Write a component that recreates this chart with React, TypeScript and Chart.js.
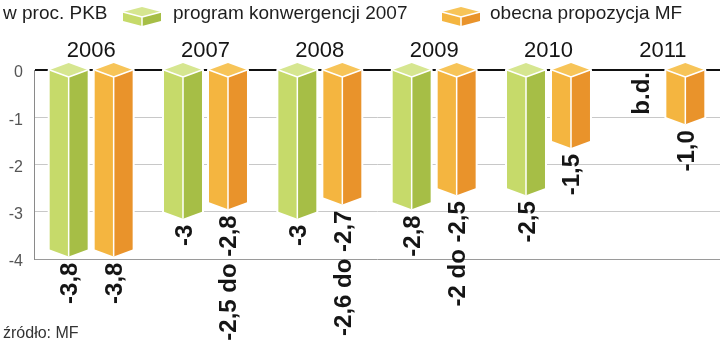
import React, { useEffect, useRef } from 'react';
import { Chart, registerables } from 'chart.js';

Chart.register(...registerables);

const categories = ['2006', '2007', '2008', '2009', '2010', '2011'];
const programValues: (number | null)[] = [-3.8, -3, -3, -2.8, -2.5, null];
const mfValues: (number | null)[] = [-3.8, -2.8, -2.7, -2.5, -1.5, -1.0];
const programLabels = ['-3,8', '-3', '-3', '-2,8', '-2,5', 'b.d.'];
const mfLabels = ['-3,8', '-2,5 do -2,8', '-2,6 do -2,7', '-2 do -2,5', '-1,5', '-1,0'];
const yTicks = [0, -1, -2, -3, -4];
const seriesNames = ['program konwergencji 2007', 'obecna propozycja MF'];
const unitLabel = 'w proc. PKB';
const sourceLabel = 'źródło: MF';

const palettes = [
  { left: '#c6da6a', right: '#a6be46', top: '#d6e690' },
  { left: '#f4b540', right: '#e9932b', top: '#f7c458' },
];

const FONT = '"Liberation Sans", Arial, sans-serif';
const DEPTH = 7;

function drawPrism(
  ctx: CanvasRenderingContext2D,
  cx: number,
  hw: number,
  y0: number,
  yv: number,
  dh: number,
  c: { left: string; right: string; top: string },
  outline = 4
) {
  const L = cx - hw;
  const R = cx + hw;
  ctx.save();
  ctx.lineJoin = 'round';
  if (outline > 0) {
    ctx.beginPath();
    ctx.moveTo(L, y0);
    ctx.lineTo(cx, y0 - dh);
    ctx.lineTo(R, y0);
    ctx.lineTo(R, yv);
    ctx.lineTo(cx, yv + dh);
    ctx.lineTo(L, yv);
    ctx.closePath();
    ctx.strokeStyle = '#ffffff';
    ctx.lineWidth = outline;
    ctx.stroke();
  }
  // left face
  ctx.beginPath();
  ctx.moveTo(L, y0);
  ctx.lineTo(cx, y0 + dh);
  ctx.lineTo(cx, yv + dh);
  ctx.lineTo(L, yv);
  ctx.closePath();
  ctx.fillStyle = c.left;
  ctx.fill();
  // right face
  ctx.beginPath();
  ctx.moveTo(cx, y0 + dh);
  ctx.lineTo(R, y0);
  ctx.lineTo(R, yv);
  ctx.lineTo(cx, yv + dh);
  ctx.closePath();
  ctx.fillStyle = c.right;
  ctx.fill();
  // top face
  ctx.beginPath();
  ctx.moveTo(L, y0);
  ctx.lineTo(cx, y0 - dh);
  ctx.lineTo(R, y0);
  ctx.lineTo(cx, y0 + dh);
  ctx.closePath();
  ctx.fillStyle = c.top;
  ctx.fill();
  // white edges
  ctx.beginPath();
  ctx.moveTo(L, y0);
  ctx.lineTo(cx, y0 + dh);
  ctx.lineTo(R, y0);
  ctx.moveTo(cx, y0 + dh);
  ctx.lineTo(cx, yv + dh);
  ctx.strokeStyle = '#ffffff';
  ctx.lineWidth = 1.5;
  ctx.stroke();
  ctx.restore();
}

function drawVerticalLabel(ctx: CanvasRenderingContext2D, text: string, x: number, yStart: number) {
  ctx.save();
  ctx.translate(x, yStart);
  ctx.rotate(-Math.PI / 2);
  ctx.font = `bold 24px ${FONT}`;
  ctx.fillStyle = '#151515';
  ctx.textAlign = 'right';
  ctx.textBaseline = 'alphabetic';
  ctx.fillText(text, 0, 8.5);
  ctx.restore();
}

const prismPlugin = {
  id: 'prismBars',
  afterDatasetsDraw(chart: any) {
    const ctx: CanvasRenderingContext2D = chart.ctx;
    const yScale = chart.scales.y;
    const xScale = chart.scales.x;
    const y0 = yScale.getPixelForValue(0);
    chart.data.datasets.forEach((ds: any, di: number) => {
      const meta = chart.getDatasetMeta(di);
      const labels = di === 0 ? programLabels : mfLabels;
      meta.data.forEach((el: any, i: number) => {
        const v = ds.data[i];
        let x = el.x;
        let width = el.width;
        if (!isFinite(x) || !isFinite(width)) {
          const c = xScale.getPixelForValue(i);
          width = 38;
          x = di === 0 ? c - 22.5 : c + 22.5;
        }
        if (v == null) {
          drawVerticalLabel(ctx, labels[i], x, y0 + 2);
          return;
        }
        const yv = yScale.getPixelForValue(v);
        drawPrism(ctx, x, width / 2, y0, yv, DEPTH, palettes[di]);
        drawVerticalLabel(ctx, labels[i], x, yv + DEPTH + 6);
      });
    });
  },
  afterDraw(chart: any) {
    const ctx: CanvasRenderingContext2D = chart.ctx;
    const xScale = chart.scales.x;
    ctx.save();
    // legend / unit
    ctx.font = `19px ${FONT}`;
    ctx.fillStyle = '#1e1e1e';
    ctx.textAlign = 'left';
    ctx.textBaseline = 'alphabetic';
    ctx.fillText(unitLabel, 3, 19);
    drawPrism(ctx, 142, 19, 12, 21, 5, palettes[0], 0);
    ctx.font = `19px ${FONT}`;
    ctx.fillStyle = '#1e1e1e';
    ctx.fillText(seriesNames[0], 173, 19);
    drawPrism(ctx, 461, 19, 12, 21, 5, palettes[1], 0);
    ctx.font = `19px ${FONT}`;
    ctx.fillStyle = '#1e1e1e';
    ctx.fillText(seriesNames[1], 490, 19);
    // year labels
    ctx.font = `22px ${FONT}`;
    ctx.fillStyle = '#151515';
    ctx.textAlign = 'center';
    categories.forEach((c, i) => {
      ctx.fillText(c, xScale.getPixelForValue(i), 57);
    });
    // source
    ctx.font = `16px ${FONT}`;
    ctx.fillStyle = '#333333';
    ctx.textAlign = 'left';
    ctx.fillText(sourceLabel, 3, 338);
    ctx.restore();
  },
};

export default function App() {
  const ref = useRef<HTMLCanvasElement | null>(null);
  useEffect(() => {
    if (!ref.current) return;
    const chart = new Chart(ref.current, {
      type: 'bar',
      data: {
        labels: categories,
        datasets: [
          {
            label: seriesNames[0],
            data: programValues as any,
            backgroundColor: 'rgba(0,0,0,0)',
            borderWidth: 0,
          },
          {
            label: seriesNames[1],
            data: mfValues as any,
            backgroundColor: 'rgba(0,0,0,0)',
            borderWidth: 0,
          },
        ],
      },
      options: {
        animation: false,
        responsive: true,
        maintainAspectRatio: false,
        layout: { padding: { top: 70, bottom: 84, left: 0, right: 0 } },
        datasets: { bar: { categoryPercentage: 0.787, barPercentage: 0.844 } },
        plugins: { legend: { display: false }, tooltip: { enabled: false } },
        scales: {
          x: { display: false },
          y: {
            min: -4,
            max: 0,
            afterFit: (s: any) => {
              s.width = 34;
            },
            afterBuildTicks: (s: any) => {
              s.ticks = yTicks.map((v) => ({ value: v }));
            },
            ticks: {
              padding: 11,
              labelOffset: 3,
              color: '#555555',
              font: { family: FONT, size: 16 },
              callback: (v: any) => String(v),
            },
            grid: {
              drawTicks: false,
              color: (c: any) =>
                c.tick && c.tick.value === 0 ? '#111111' : c.tick && c.tick.value === -4 ? '#9a9a9a' : '#c8c8c8',
              lineWidth: (c: any) => (c.tick && c.tick.value === 0 ? 2 : 1),
            },
            border: { display: true, color: '#8a8a8a', width: 1 },
          },
        },
      },
      plugins: [prismPlugin],
    });
    return () => chart.destroy();
  }, []);
  return (
    <div style={{ position: 'absolute', left: 0, top: 0, width: 720, height: 343 }}>
      <canvas ref={ref} />
    </div>
  );
}
